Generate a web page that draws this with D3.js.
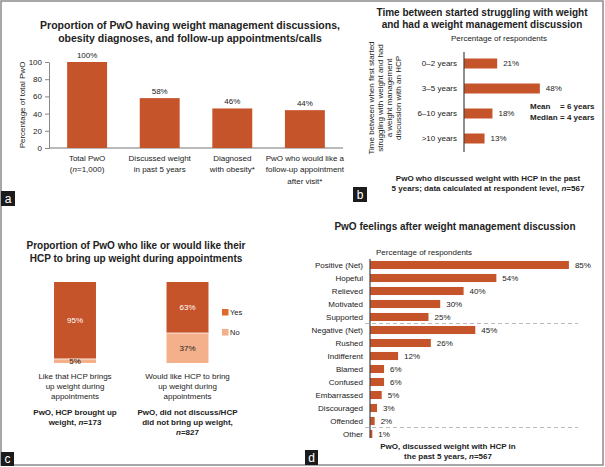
<!DOCTYPE html>
<html><head><meta charset="utf-8">
<script src="https://cdn.jsdelivr.net/npm/d3@7"></script>
<style>body{margin:0;background:#fff}svg{display:block;font-family:"Liberation Sans",Arial,sans-serif}</style>
</head><body><svg id="c" width="605" height="467"></svg>
<script>
// ---------- data ----------
const aCategories = ["Total PwO\n(n=1,000)", "Discussed weight\nin past 5 years", "Diagnosed\nwith obesity*", "PwO who would like a\nfollow-up appointment\nafter visit*"];
const aValues = [100, 58, 46, 44];
const aTicks = [0, 20, 40, 60, 80, 100];

const bCategories = ["0–2 years", "3–5 years", "6–10 years", ">10 years"];
const bValues = [21, 48, 18, 13];
const bStatLabels = ["Mean", "Median"];
const bStatValues = ["= 6 years", "= 4 years"];

const cCategories = ["Like that HCP brings\nup weight during\nappointments", "Would like HCP to bring\nup weight during\nappointments"];
const cYes = [95, 63];
const cNo = [5, 37];
const cNotes = ["PwO, HCP brought up\nweight, n=173", "PwO, did not discuss/HCP\ndid not bring up weight,\nn=827"];
const cLegend = ["Yes", "No"];

const dCategories = ["Positive (Net)", "Hopeful", "Relieved", "Motivated", "Supported", "Negative (Net)", "Rushed", "Indifferent", "Blamed", "Confused", "Embarrassed", "Discouraged", "Offended", "Other"];
const dValues = [85, 54, 40, 30, 25, 45, 26, 12, 6, 6, 5, 3, 2, 1];

// ---------- helpers ----------
const BAR = "#C5542A", LIGHT = "#F4B08A", TXT = "#222";
const svg = d3.select("#c");

function addRich(t, str) {
  const re = /(^|[\s(])n(?==)/g;
  let last = 0, m;
  while ((m = re.exec(str))) {
    const idx = m.index + m[1].length;
    if (idx > last) t.append("tspan").text(str.slice(last, idx));
    t.append("tspan").attr("font-style", "italic").text("n");
    last = idx + 1;
  }
  if (last < str.length) t.append("tspan").text(str.slice(last));
}
function lines(g, str, x, y0, lh, size, weight, anchor) {
  str.split("\n").forEach((s, i) => {
    const t = g.append("text").attr("x", x).attr("y", y0 + i * lh).attr("dy", "0.35em")
      .attr("font-size", size).attr("font-weight", weight || "normal")
      .attr("text-anchor", anchor || "middle").attr("fill", TXT);
    addRich(t, s);
  });
}

// ---------- frame ----------
svg.append("rect").attr("x", 1).attr("y", 1).attr("width", 602).attr("height", 464)
  .attr("fill", "none").attr("stroke", "#8a8a8a").attr("stroke-width", 1.5);

// ---------- panel a ----------
const ga = svg.append("g");
lines(ga, "Proportion of PwO having weight management discussions,\nobesity diagnoses, and follow-up appointments/calls", 190, 25, 13, 10.5, "bold");
const xA = d3.scaleBand().domain(aCategories).range([49, 343]).paddingInner(0.45).paddingOuter(0.25);
const yA = d3.scaleLinear().domain([0, 100]).range([148, 62]);
const axA = ga.append("g").attr("transform", "translate(49,0)")
  .call(d3.axisLeft(yA).tickValues(aTicks).tickSize(4).tickSizeOuter(0).tickPadding(3));
axA.selectAll("text").attr("font-size", 8).attr("fill", TXT).attr("font-family", null);
axA.selectAll("line,path").attr("stroke", "#888");
ga.append("line").attr("x1", 49).attr("x2", 343).attr("y1", yA(0)).attr("y2", yA(0)).attr("stroke", "#777");
ga.append("text").attr("transform", `translate(22,${(yA(0) + yA(100)) / 2}) rotate(-90)`)
  .attr("text-anchor", "middle").attr("dy", "0.35em").attr("font-size", 8).attr("fill", TXT).text("Percentage of total PwO");
ga.selectAll("rect.bar").data(aValues).join("rect").attr("class", "bar")
  .attr("x", (d, i) => xA(aCategories[i])).attr("width", xA.bandwidth())
  .attr("y", d => yA(d)).attr("height", d => yA(0) - yA(d)).attr("fill", BAR);
ga.selectAll("text.val").data(aValues).join("text").attr("class", "val")
  .attr("x", (d, i) => xA(aCategories[i]) + xA.bandwidth() / 2).attr("y", d => yA(d) - 4)
  .attr("text-anchor", "middle").attr("font-size", 8).attr("fill", TXT).text(d => d + "%");
aCategories.forEach(c => lines(ga, c, xA(c) + xA.bandwidth() / 2, 158, 11.5, 8));

// ---------- panel b ----------
const gb = svg.append("g");
lines(gb, "Time between started struggling with weight\nand had a weight management discussion", 482, 12, 12, 10, "bold");
gb.append("text").attr("x", 499).attr("y", 38).attr("dy", "0.35em").attr("text-anchor", "middle")
  .attr("font-size", 8).attr("fill", TXT).text("Percentage of respondents");
const yB = d3.scaleBand().domain(bCategories).range([51, 151]).paddingInner(0.6).paddingOuter(0.3);
const xB = d3.scaleLinear().domain([0, 100]).range([464, 622]);
gb.selectAll("rect").data(bValues).join("rect")
  .attr("x", xB(0)).attr("y", (d, i) => yB(bCategories[i])).attr("height", yB.bandwidth())
  .attr("width", d => xB(d) - xB(0)).attr("fill", BAR);
gb.append("line").attr("x1", xB(0)).attr("x2", xB(0)).attr("y1", 52).attr("y2", 152).attr("stroke", "#444").attr("stroke-width", 1.2);
gb.selectAll("text.cat").data(bCategories).join("text").attr("class", "cat")
  .attr("x", xB(0) - 7).attr("y", d => yB(d) + yB.bandwidth() / 2).attr("dy", "0.35em")
  .attr("text-anchor", "end").attr("font-size", 8).attr("fill", TXT).text(d => d);
gb.selectAll("text.val").data(bValues).join("text").attr("class", "val")
  .attr("x", d => xB(d) + 6).attr("y", (d, i) => yB(bCategories[i]) + yB.bandwidth() / 2).attr("dy", "0.35em")
  .attr("font-size", 8).attr("fill", TXT).text(d => d + "%");
["Time between when first started", "struggling with weight and had", "a weight management", "discussion with an HCP"].forEach((s, i) => {
  gb.append("text").attr("transform", `translate(${371 + i * 9},98) rotate(-90)`).attr("dy", "0.35em")
    .attr("text-anchor", "middle").attr("font-size", 8).attr("fill", TXT).text(s);
});
bStatLabels.forEach((s, i) => {
  gb.append("text").attr("x", 530).attr("y", 106 + i * 11).attr("dy", "0.35em").attr("font-size", 8)
    .attr("font-weight", "bold").attr("fill", TXT).text(s);
  gb.append("text").attr("x", 560).attr("y", 106 + i * 11).attr("dy", "0.35em").attr("font-size", 8)
    .attr("font-weight", "bold").attr("fill", TXT).text(bStatValues[i]);
});
lines(gb, "PwO who discussed weight with HCP in the past\n5 years; data calculated at respondent level, n=567", 488, 178, 10, 8, "bold");

// ---------- panel c ----------
const gc = svg.append("g");
lines(gc, "Proportion of PwO who like or would like their\nHCP to bring up weight during appointments", 136, 245, 13, 10, "bold");
const xC = d3.scaleBand().domain(cCategories).range([18.75, 243.75]).paddingInner(0.627).paddingOuter(0.3135);
const yC = d3.scaleLinear().domain([0, 100]).range([363, 282]);
cCategories.forEach((c, i) => {
  const x = xC(c), w = xC.bandwidth(), cx = x + w / 2;
  gc.append("rect").attr("x", x).attr("width", w).attr("y", yC(cNo[i])).attr("height", yC(0) - yC(cNo[i])).attr("fill", LIGHT);
  gc.append("rect").attr("x", x).attr("width", w).attr("y", yC(100)).attr("height", yC(cNo[i]) - yC(100)).attr("fill", BAR);
  gc.append("line").attr("x1", x).attr("x2", x + w).attr("y1", yC(cNo[i])).attr("y2", yC(cNo[i])).attr("stroke", "#fff").attr("stroke-width", 0.8);
  gc.append("text").attr("x", cx).attr("y", (yC(cNo[i]) + yC(100)) / 2).attr("dy", "0.35em").attr("text-anchor", "middle")
    .attr("font-size", 8).attr("fill", "#fff").text(cYes[i] + "%");
  gc.append("text").attr("x", cx).attr("y", (yC(cNo[i]) + yC(0)) / 2).attr("dy", "0.35em").attr("text-anchor", "middle")
    .attr("font-size", 8).attr("fill", TXT).text(cNo[i] + "%");
  lines(gc, c, cx, 376, 10, 8);
  lines(gc, cNotes[i], cx, 412, 10, 8, "bold");
});
cLegend.forEach((s, i) => {
  gc.append("rect").attr("x", 222).attr("y", 309 + i * 20).attr("width", 6.5).attr("height", 6.5).attr("fill", i === 0 ? "#E06A2C" : LIGHT);
  gc.append("text").attr("x", 230).attr("y", 312.5 + i * 20).attr("dy", "0.35em").attr("font-size", 7.5).attr("fill", TXT).text(s);
});

// ---------- panel d ----------
const gd = svg.append("g");
lines(gd, "PwO feelings after weight management discussion", 455, 226, 12, 10, "bold");
gd.append("text").attr("x", 376).attr("y", 252).attr("dy", "0.35em").attr("font-size", 8).attr("fill", TXT).text("Percentage of respondents");
const yD = d3.scaleBand().domain(dCategories).range([258.5, 440.5]).paddingInner(0.38).paddingOuter(0.19);
const xD = d3.scaleLinear().domain([0, 100]).range([370, 604]);
gd.selectAll("rect").data(dValues).join("rect")
  .attr("x", xD(0)).attr("y", (d, i) => yD(dCategories[i])).attr("height", yD.bandwidth())
  .attr("width", d => xD(d) - xD(0)).attr("fill", BAR);
[["Supported", "Negative (Net)"], ["Offended", "Other"]].forEach(([a, b]) => {
  const y = (yD(a) + yD(b) + yD.bandwidth()) / 2;
  gd.append("line").attr("x1", 365).attr("x2", 578).attr("y1", y).attr("y2", y)
    .attr("stroke", "#bbb").attr("stroke-dasharray", "4,3");
});
gd.append("line").attr("x1", xD(0)).attr("x2", xD(0)).attr("y1", 259).attr("y2", 438).attr("stroke", "#444").attr("stroke-width", 1.2);
gd.selectAll("text.cat").data(dCategories).join("text").attr("class", "cat")
  .attr("x", xD(0) - 7).attr("y", d => yD(d) + yD.bandwidth() / 2).attr("dy", "0.35em")
  .attr("text-anchor", "end").attr("font-size", 8).attr("fill", TXT).text(d => d);
gd.selectAll("text.val").data(dValues).join("text").attr("class", "val")
  .attr("x", d => xD(d) + 6).attr("y", (d, i) => yD(dCategories[i]) + yD.bandwidth() / 2).attr("dy", "0.35em")
  .attr("font-size", 8).attr("fill", TXT).text(d => d + "%");
lines(gd, "PwO, discussed weight with HCP in\nthe past 5 years, n=567", 448, 446, 10, 8, "bold");

// ---------- panel letters ----------
[["a", 1, 191, 14, 15], ["b", 353, 187, 14, 15], ["c", 1, 452, 13, 14], ["d", 305, 450, 13, 15]].forEach(([l, x, y, w, h]) => {
  svg.append("rect").attr("x", x).attr("y", y).attr("width", w).attr("height", h).attr("fill", "#1b1b1b");
  svg.append("text").attr("x", x + w / 2).attr("y", y + h / 2).attr("dy", "0.36em").attr("text-anchor", "middle")
    .attr("font-size", 12).attr("fill", "#fff").text(l);
});
</script></body></html>
